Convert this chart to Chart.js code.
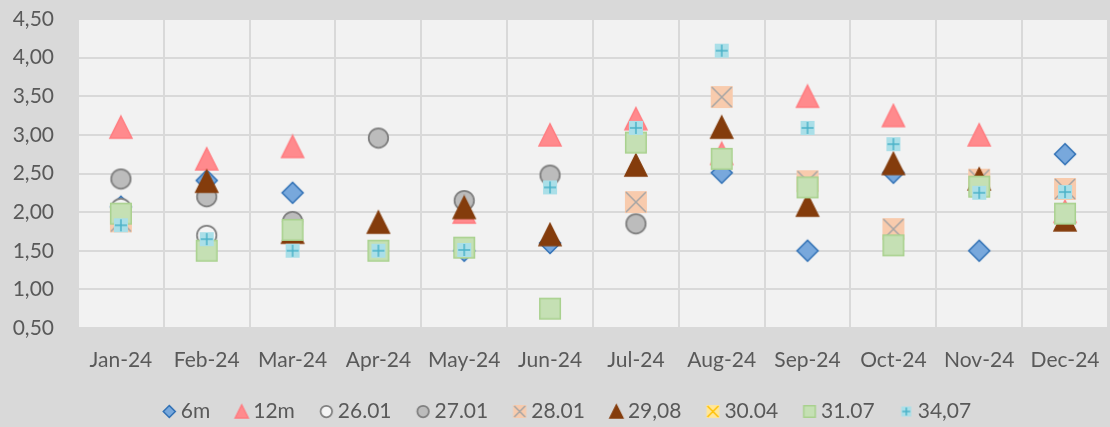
<!DOCTYPE html>
<html>
<head>
<meta charset="utf-8">
<script src="https://cdn.jsdelivr.net/npm/chart.js@4.4.1/dist/chart.umd.min.js"></script>
<style>
  html, body { margin: 0; padding: 0; background: #d9d9d9; overflow: hidden; }
  #wrap { width: 1120px; height: 427px; }
</style>
</head>
<body>
<div id="wrap"><canvas id="chart" width="1120" height="427"></canvas></div>
<script>
// categories and tick labels
const months = ['Jan-24', 'Feb-24', 'Mar-24', 'Apr-24', 'May-24', 'Jun-24',
                'Jul-24', 'Aug-24', 'Sep-24', 'Oct-24', 'Nov-24', 'Dec-24'];
const yTickLabels = ['0,50', '1,00', '1,50', '2,00', '2,50', '3,00', '3,50', '4,00', '4,50'];

// series values (null = no visible marker)
const s6m   = [2.07, 2.41, 2.25, null, 1.50, 1.60, null, 2.51, 1.50, 2.51, 1.50, 2.75];
const s12m  = [3.10, 2.69, 2.85, null, 2.00, 3.00, 3.21, 2.76, 3.50, 3.25, 3.00, 2.01];
const s2601 = [2.05, 1.70, null, null, null, null, null, null, null, null, null, null];
const s2701 = [2.43, 2.20, 1.88, 2.96, 2.15, 2.48, 1.85, null, null, null, null, null];
const s2801 = [1.88, null, null, null, null, null, 2.13, 3.49, 2.40, 1.78, 2.42, 2.30];
const s2908 = [null, 2.40, 1.74, 1.87, 2.06, 1.71, 2.61, 3.10, 2.09, 2.63, 2.43, 1.90];
const s3004 = [null, null, null, null, null, null, null, null, null, null, null, null];
const s3107 = [1.98, 1.50, 1.77, 1.50, 1.54, 0.75, 2.90, 2.69, 2.32, 1.57, 2.33, 1.98];
const s3407 = [1.83, 1.65, 1.50, 1.50, 1.51, 2.32, 3.09, 4.09, 3.09, 2.88, 2.25, 2.26];

const seriesNames = ['6m', '12m', '26.01', '27.01', '28.01', '29,08', '30.04', '31.07', '34,07'];
const seriesData = [s6m, s12m, s2601, s2701, s2801, s2908, s3004, s3107, s3407];

// marker looks, Excel style
const markerStyles = [
  { kind: 'diamond',  fill: '#78a8dc', line: '#2e6fb4', size: 22 },
  { kind: 'triangle', fill: '#ff8a8d', line: '#ff7c80', size: 22 },
  { kind: 'circle',   fill: '#f4f4f4', line: '#7f7f7f', size: 21 },
  { kind: 'circle',   fill: '#bcbcbc', line: '#7f7f7f', size: 21 },
  { kind: 'xbox',     fill: '#f8cbad', line: '#a5a5a5', size: 22 },
  { kind: 'triangle', fill: '#843c0c', line: '#843c0c', size: 22 },
  { kind: 'xbox',     fill: '#ffe699', line: '#ffc000', size: 22 },
  { kind: 'square',   fill: '#c5e0b4', line: '#a9d18e', size: 22 },
  { kind: 'plus',     fill: '#aadfe8', line: '#4bb3c8', size: 14 }
];

// legend spacing: box width handed to chart.js, marker sits right next to the text
const legendBoxW = 12.5;
const legendShift = legendBoxW / 2 - 1;

function makeMarker(st, s, shift) {
  const pad = 2;
  const c = document.createElement('canvas');
  c.width = Math.ceil(s + pad * 2 + Math.abs(shift) * 2);
  c.height = s + pad * 2;
  const g = c.getContext('2d');
  const mx = c.width / 2 + shift, m = c.height / 2, h = s / 2;
  g.fillStyle = st.fill;
  g.strokeStyle = st.line;
  g.lineWidth = 1.5;
  g.beginPath();
  if (st.kind === 'diamond') {
    g.moveTo(mx, m - h + 0.5); g.lineTo(mx + h - 0.5, m); g.lineTo(mx, m + h - 0.5); g.lineTo(mx - h + 0.5, m);
    g.closePath(); g.fill(); g.stroke();
  } else if (st.kind === 'triangle') {
    g.moveTo(mx, m - h); g.lineTo(mx + h, m + h); g.lineTo(mx - h, m + h);
    g.closePath(); g.fill(); g.stroke();
  } else if (st.kind === 'circle') {
    g.arc(mx, m, h - 0.75, 0, Math.PI * 2);
    g.fill(); g.lineWidth = 1.75; g.stroke();
  } else if (st.kind === 'square') {
    g.rect(mx - h + 0.75, m - h + 0.75, s - 1.5, s - 1.5);
    g.fill(); g.stroke();
  } else if (st.kind === 'xbox') {
    g.fillRect(mx - h, m - h, s, s);
    g.moveTo(mx - h + 1, m - h + 1); g.lineTo(mx + h - 1, m + h - 1);
    g.moveTo(mx + h - 1, m - h + 1); g.lineTo(mx - h + 1, m + h - 1);
    g.stroke();
  } else if (st.kind === 'plus') {
    g.fillRect(mx - h, m - h, s, s);
    g.moveTo(mx, m - h + 1); g.lineTo(mx, m + h - 1);
    g.moveTo(mx - h + 1, m); g.lineTo(mx + h - 1, m);
    g.stroke();
  }
  return c;
}

const pointImgs = markerStyles.map(st => makeMarker(st, st.size, 0));
const legendImgs = markerStyles.map(st => makeMarker(st, st.kind === 'plus' ? 10 : 13, legendShift));

const textColor = '#595959';
const fontFamily = 'Lato, "Open Sans", sans-serif';

const datasets = seriesNames.map((name, i) => ({
  label: name,
  data: seriesData[i],
  showLine: false,
  pointStyle: pointImgs[i],
  pointRadius: 11,
  backgroundColor: markerStyles[i].fill,
  borderColor: markerStyles[i].line,
  order: seriesNames.length - i   // later series on top, like Excel
}));

const plotBg = {
  id: 'plotBg',
  beforeDraw(chart) {
    const a = chart.chartArea, ctx = chart.ctx;
    ctx.save();
    ctx.fillStyle = '#f2f2f2';
    ctx.fillRect(a.left, a.top, a.right - a.left, a.bottom - a.top);
    ctx.restore();
  }
};

// nudge the legend a little right, as in the picture
const legendNudge = {
  id: 'legendNudge',
  afterLayout(chart) {
    chart.legend.left += 7;
    chart.legend.right += 7;
  }
};

new Chart(document.getElementById('chart'), {
  type: 'line',
  data: { labels: months, datasets: datasets },
  plugins: [plotBg, legendNudge],
  options: {
    responsive: false,
    animation: false,
    layout: { padding: { top: 19, right: 5, left: 0, bottom: -5 } },
    plugins: {
      tooltip: { enabled: false },
      legend: {
        position: 'bottom',
        labels: {
          usePointStyle: true,
          pointStyleWidth: legendBoxW,
          padding: 20,
          color: textColor,
          font: { family: fontFamily, size: 21 },
          sort: (a, b) => a.datasetIndex - b.datasetIndex,
          generateLabels: chart => chart.data.datasets.map((ds, i) => ({
            text: ds.label,
            datasetIndex: i,
            pointStyle: legendImgs[i],
            fontColor: textColor,
            hidden: false,
            lineWidth: 0
          }))
        }
      }
    },
    scales: {
      x: {
        type: 'category',
        offset: true,
        grid: { color: '#d9d9d9', lineWidth: 2, offset: true, drawTicks: false },
        border: { display: false },
        ticks: { color: textColor, font: { family: fontFamily, size: 21 }, padding: 20, maxRotation: 0, autoSkip: false },
        afterFit: s => { s.height = 53; }
      },
      y: {
        min: 0.5,
        max: 4.5,
        grid: { color: '#d9d9d9', lineWidth: 2, drawTicks: false },
        border: { display: false },
        ticks: {
          stepSize: 0.5,
          color: textColor,
          padding: 24,
          font: { family: fontFamily, size: 21 },
          callback: (v, i) => yTickLabels[i]
        },
        afterFit: s => { s.width = 78; s.paddingTop = 0; s.paddingBottom = 0; }
      }
    }
  }
});
</script>
</body>
</html>
